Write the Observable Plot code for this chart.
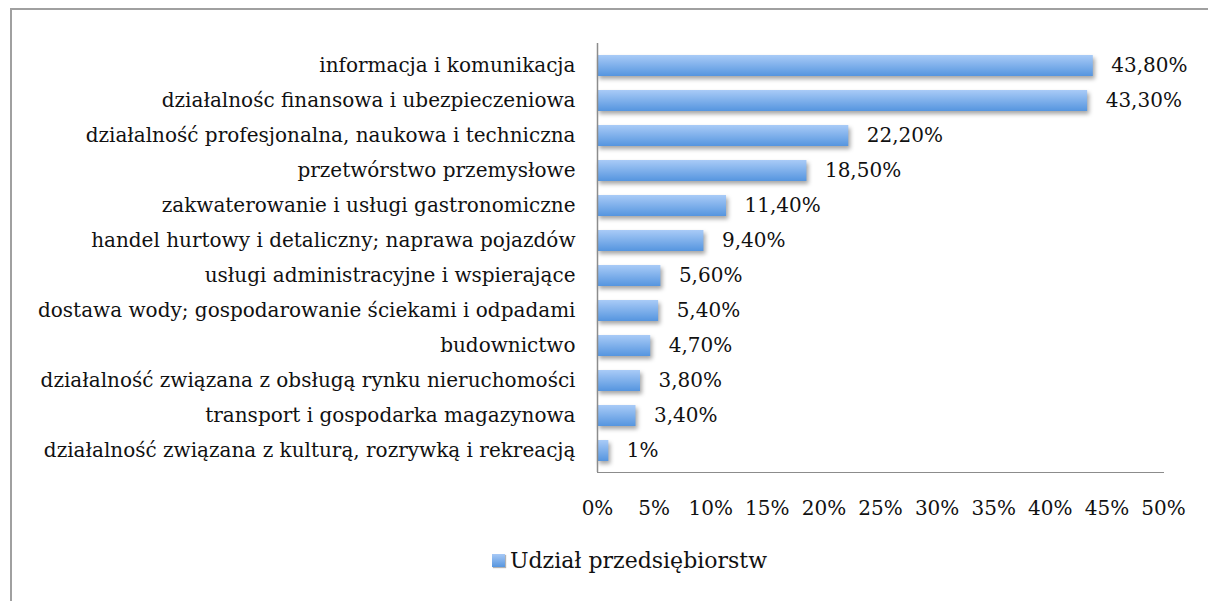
<!DOCTYPE html>
<html>
<head>
<meta charset="utf-8">
<script src="https://cdn.jsdelivr.net/npm/d3@7"></script>
<script src="https://cdn.jsdelivr.net/npm/@observablehq/plot@0.6"></script>
<style>
  html, body { margin: 0; padding: 0; background: #fff; overflow: hidden; width: 1208px; height: 601px; }
  #frame { position: absolute; left: 10px; top: 8px; width: 1300px; height: 700px;
           border-left: 2px solid #a0a0a0; border-top: 2px solid #a0a0a0; box-sizing: border-box; }
  #chart { position: absolute; left: 0; top: 0; }
  #chart svg text { fill: #111; }
  #chart g[aria-label="bar"] { filter: drop-shadow(2px 3px 2px rgba(0,0,0,0.35)); }
  #legend { position: absolute; left: 492px; top: 548px; font-family: "DejaVu Serif", serif;
            font-size: 22px; color: #111; display: flex; align-items: center; }
  #legend .sw { width: 13px; height: 13px; margin-right: 5px;
                background: linear-gradient(#a7c9f6, #5796df); box-shadow: 1px 1px 1px rgba(0,0,0,0.3); }
</style>
</head>
<body>
<div id="frame"></div>
<div id="chart"></div>
<div id="legend"><div class="sw"></div><span>Udział przedsiębiorstw</span></div>
<script>
const categories = [
  "informacja i komunikacja",
  "działalnośc finansowa i ubezpieczeniowa",
  "działalność profesjonalna, naukowa i techniczna",
  "przetwórstwo przemysłowe",
  "zakwaterowanie i usługi gastronomiczne",
  "handel hurtowy i detaliczny; naprawa pojazdów",
  "usługi administracyjne i wspierające",
  "dostawa wody; gospodarowanie ściekami i odpadami",
  "budownictwo",
  "działalność związana z obsługą rynku nieruchomości",
  "transport i gospodarka magazynowa",
  "działalność związana z kulturą, rozrywką i rekreacją"
];
const values = [43.8, 43.3, 22.2, 18.5, 11.4, 9.4, 5.6, 5.4, 4.7, 3.8, 3.4, 1];
const valueLabels = ["43,80%", "43,30%", "22,20%", "18,50%", "11,40%", "9,40%", "5,60%", "5,40%", "4,70%", "3,80%", "3,40%", "1%"];
const xTicks = [0, 5, 10, 15, 20, 25, 30, 35, 40, 45, 50];
const seriesName = "Udział przedsiębiorstw";

const data = categories.map((c, i) => ({category: c, value: values[i], label: valueLabels[i]}));

const chart = Plot.plot({
  width: 1208,
  height: 530,
  marginLeft: 597,
  marginRight: 45,
  marginTop: 43,
  marginBottom: 58,
  style: {fontFamily: "'DejaVu Serif', serif", fontSize: "20px", background: "transparent", color: "#8c8c8c"},
  x: {domain: [0, 50], ticks: xTicks, tickFormat: d => d + "%", tickSize: 0, tickPadding: 28, label: null, line: true},
  y: {domain: categories, paddingInner: 0.4, paddingOuter: 0.2, tickSize: 0, tickPadding: 22, label: null},
  marks: [
    Plot.barX(data, {x: "value", y: "category", fill: "url(#barGrad)"}),
    Plot.ruleX([0], {stroke: "#8c8c8c", strokeWidth: 1.5}),
    Plot.text(data, {x: "value", y: "category", text: "label", textAnchor: "start", dx: 18, fill: "#111"})
  ]
});

const defs = d3.select(chart).insert("defs", ":first-child");
const g = defs.append("linearGradient").attr("id", "barGrad").attr("x1", 0).attr("y1", 0).attr("x2", 0).attr("y2", 1);
g.append("stop").attr("offset", "0%").attr("stop-color", "#a9cbf7");
g.append("stop").attr("offset", "100%").attr("stop-color", "#5595df");

document.getElementById("chart").appendChild(chart);
</script>
</body>
</html>
